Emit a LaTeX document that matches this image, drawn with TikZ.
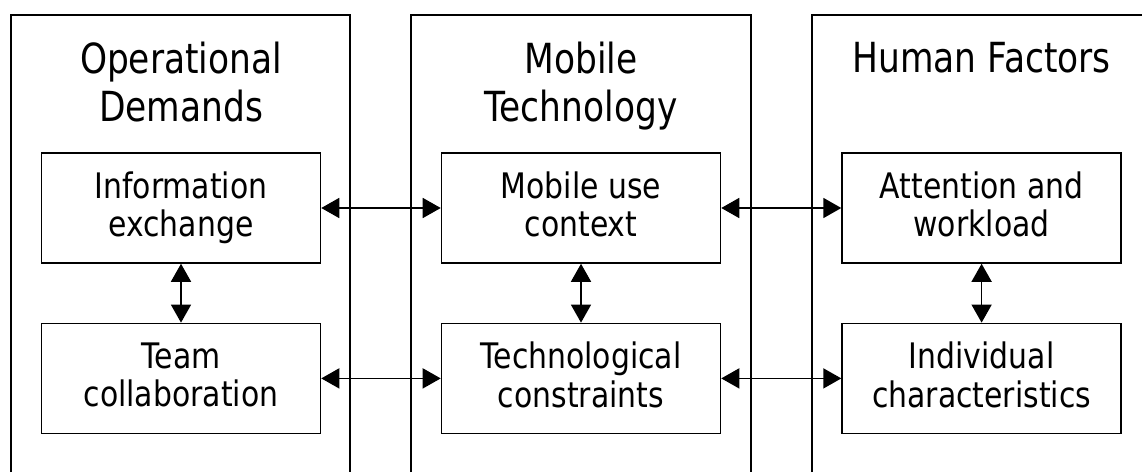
\documentclass[tikz,border=0pt]{standalone}
\usepackage{fontspec}
\setmainfont{DejaVu Sans}[FakeStretch=0.85]
\newfontfamily\headfont{DejaVu Sans}[FakeStretch=0.83]
\usetikzlibrary{arrows.meta}

\begin{document}
\begin{tikzpicture}[line width=1.1pt,
		factor/.style={draw, rectangle, minimum width=6.975cm, minimum height=2.75cm, inner sep=0pt, align=center, font=\fontsize{25}{27.3}\selectfont, execute at begin node={\rule{0pt}{23pt}}, execute at end node={\vphantom{g}}},
		heading/.style={anchor=north, inner sep=0pt, align=center, font=\headfont\fontsize{29.5}{34.1}\selectfont},
		link/.style={<->, >={Triangle[length=0.45cm, width=0.5cm]}}]
				\useasboundingbox (0,0) rectangle (28.55,11.8);
				% three columns, open at the bottom
				\draw (0.275,0) -- (0.275,11.425) -- (8.75,11.425) -- (8.75,0);
				\draw (10.275,0) -- (10.275,11.425) -- (18.775,11.425) -- (18.775,0);
				\draw (20.3,0) -- (20.3,11.425) -- (28.55,11.425);
				\node[heading] (OD) at (4.525, 10.76) {Operational\\Demands};
				\node[heading] (MT) at (14.525, 10.76) {Mobile\\Technology};
				\node[heading] (HF) at (24.54, 10.76) {Human Factors};
				\node[factor] (IE) at (4.525, 6.6) {Information\\exchange};
				\node[factor] (TC) at (4.525, 2.34) {Team\\collaboration};
				\node[factor] (MU) at (14.525, 6.6) {Mobile use\\context};
				\node[factor] (TK) at (14.525, 2.34) {Technological\\constraints};
				\node[factor] (AW) at (24.54, 6.6) {Attention and\\workload};
				\node[factor] (IC) at (24.54, 2.34) {Individual\\characteristics};
				\draw[link] (IE) -- (MU);
				\draw[link] (MU) -- (AW);
				\draw[link] (TC) -- (TK);
				\draw[link] (TK) -- (IC);
				\draw[link] (IE) -- (TC);
				\draw[link] (MU) -- (TK);
				\draw[link] (AW) -- (IC);
			\end{tikzpicture}
\end{document}
